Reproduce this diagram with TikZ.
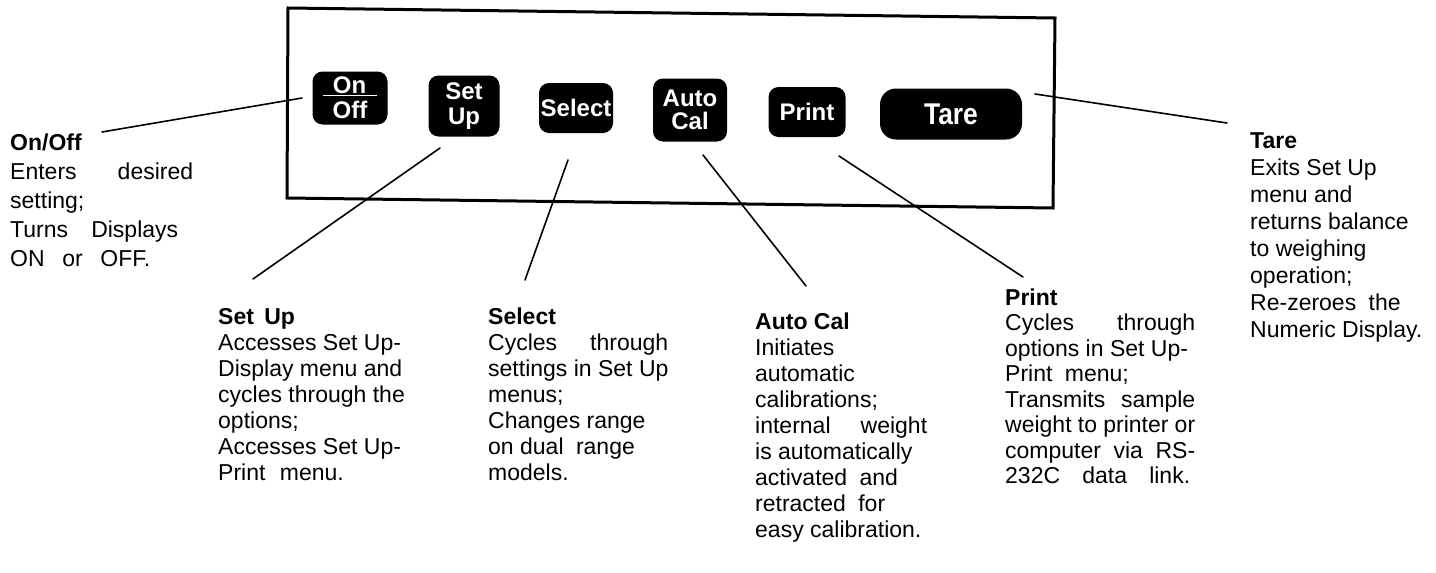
\documentclass[tikz,border=0pt]{standalone}
\usepackage{fontspec}
\setmainfont{Liberation Sans}
\newfontfamily\btnfont{Liberation Sans}
\newfontfamily\tarefont{Liberation Sans}[FakeStretch=0.88]
\newcommand\blk[2]{\vtop{\baselineskip=#1pt\lineskiplimit=-100pt\lineskip=0pt #2}}
\tikzset{
  btn/.style={fill=black, rounded corners=10pt, text=white, align=center, inner sep=0pt,
    font=\btnfont\bfseries\fontsize{24}{25}\selectfont},
  lbl/.style={anchor=base west, inner sep=0pt, font=\fontsize{23}{22}\selectfont},
  conn/.style={line width=1.6pt, line cap=round},
  panel/.style={line width=3pt, line join=miter}
}
\begin{document}
\begin{tikzpicture}[x=1pt,y=-1pt]
\useasboundingbox (0,0) rectangle (1436,573);
% panel frame
\draw[panel] (288,8) -- (1055,18) -- (1053,208) -- (287,198) -- cycle;
% buttons
\node[btn, minimum width=75, minimum height=53] (onoff) at (350,98)
  {\underline{\hspace{10pt}On\hspace{11pt}}\\Off};
\node[btn, minimum width=71, minimum height=61] (setup) at (464,106) {Set\\Up};
\node[btn, minimum width=74, minimum height=50] (select) at (576,108) {Select};
\node[btn, minimum width=74, minimum height=63, font=\btnfont\bfseries\fontsize{24}{23}\selectfont] (autocal) at (690,110) {Auto\\Cal};
\node[btn, minimum width=77, minimum height=50] (print) at (807,112) {Print};
\node[btn, minimum width=142, minimum height=51, rounded corners=16pt,
  font=\tarefont\bfseries\fontsize{30}{30}\selectfont] (tare) at (951,114) {Tare};
% labels
\node[lbl] (lonoff) at (10,150) {\blk{29}{%
  \hbox{\textbf{On/Off}}
  \hbox to 183pt{Enters\hfill desired}
  \hbox{setting;}
  \hbox to 168pt{Turns\hfill Displays}
  \hbox to 140pt{ON\hfill or\hfill OFF.}}};
\node[lbl] (lsetup) at (218,324) {\blk{26}{%
  \hbox{\textbf{Set\hspace{4pt} Up}}
  \hbox{Accesses Set Up-}
  \hbox{Display menu and}
  \hbox{cycles through the}
  \hbox{options;}
  \hbox{Accesses Set Up-}
  \hbox{Print\hspace{8pt} menu.}}};
\node[lbl] (lselect) at (488,324) {\blk{26}{%
  \hbox{\textbf{Select}}
  \hbox to 180pt{Cycles\hfill through}
  \hbox{settings in Set Up}
  \hbox{menus;}
  \hbox{Changes range}
  \hbox{on dual\hspace{6pt} range}
  \hbox{models.}}};
\node[lbl] (lautocal) at (755,329) {\blk{26}{%
  \hbox{\textbf{Auto Cal}}
  \hbox{Initiates}
  \hbox{automatic}
  \hbox{calibrations;}
  \hbox to 172pt{internal\hfill weight}
  \hbox{is automatically}
  \hbox{activated\hspace{6pt} and}
  \hbox{retracted\hspace{6pt} for}
  \hbox{easy calibration.}}};
\node[lbl] (lprint) at (1005,305) {\blk{25.5}{%
  \hbox{\textbf{Print}}
  \hbox to 190pt{Cycles\hfill through}
  \hbox{options in Set Up-}
  \hbox{Print\hspace{6pt} menu;}
  \hbox to 190pt{Transmits\hfill sample}
  \hbox to 190pt{weight to printer or}
  \hbox to 190pt{computer\hfill via\hfill RS-}
  \hbox to 185pt{232C\hfill data\hfill link.}}};
\node[lbl] (ltare) at (1250,148) {\blk{27}{%
  \hbox{\textbf{Tare}}
  \hbox{Exits Set Up}
  \hbox{menu and}
  \hbox{returns balance}
  \hbox{to weighing}
  \hbox{operation;}
  \hbox{Re-zeroes\hspace{6pt} the}
  \hbox{Numeric Display.}}};
% connector ends
\coordinate (onoffE) at (302,98);   \coordinate (onoffL) at (102,132);
\coordinate (setupE) at (440,148);  \coordinate (setupL) at (253,279);
\coordinate (selectE) at (568,160); \coordinate (selectL) at (525,280);
\coordinate (autocalE) at (703,155);\coordinate (autocalL) at (806,286);
\coordinate (printE) at (839,156);  \coordinate (printL) at (1023,277);
\coordinate (tareE) at (1035,94);   \coordinate (tareL) at (1227,123);
\draw[conn] (onoffE) -- (onoffL);
\draw[conn] (setupE) -- (setupL);
\draw[conn] (selectE) -- (selectL);
\draw[conn] (autocalE) -- (autocalL);
\draw[conn] (printE) -- (printL);
\draw[conn] (tareE) -- (tareL);
\end{tikzpicture}
\end{document}
